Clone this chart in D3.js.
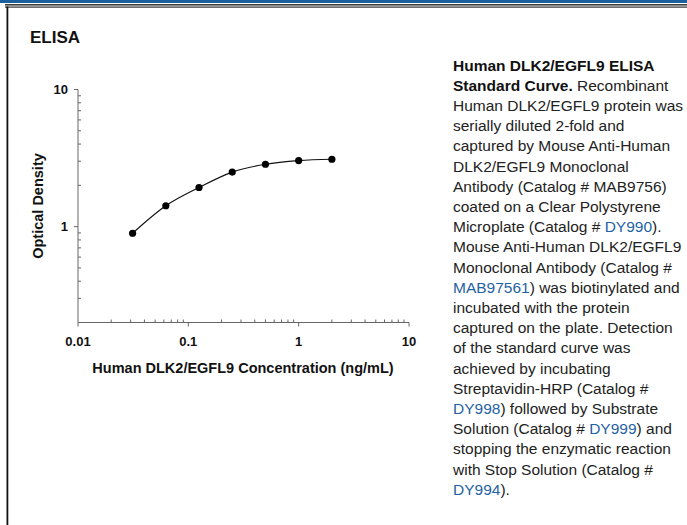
<!DOCTYPE html>
<html>
<head>
<meta charset="utf-8">
<script src="https://cdn.jsdelivr.net/npm/d3@7"></script>
<style>
  html, body { margin: 0; padding: 0; background: #fff; }
  svg { display: block; }
</style>
</head>
<body>
<script>
// data
const concentrations = [0.03125, 0.0625, 0.125, 0.25, 0.5, 1, 2];
const odValues = [0.895, 1.42, 1.93, 2.5, 2.85, 3.03, 3.1];
const xTicks = [0.01, 0.1, 1, 10];
const xTickLabels = ['0.01', '0.1', '1', '10'];
const yTicks = [1, 10];
const yTickLabels = ['1', '10'];

// caption lines, each an array of [text, isLink, isBold]
const captionLines = [
  [['Human DLK2/EGFL9 ELISA', 0, 1]],
  [['Standard Curve.', 0, 1], [' Recombinant', 0, 0]],
  [['Human DLK2/EGFL9 protein was', 0, 0]],
  [['serially diluted 2-fold and', 0, 0]],
  [['captured by Mouse Anti-Human', 0, 0]],
  [['DLK2/EGFL9 Monoclonal', 0, 0]],
  [['Antibody (Catalog # MAB9756)', 0, 0]],
  [['coated on a Clear Polystyrene', 0, 0]],
  [['Microplate (Catalog # ', 0, 0], ['DY990', 1, 0], [').', 0, 0]],
  [['Mouse Anti-Human DLK2/EGFL9', 0, 0]],
  [['Monoclonal Antibody (Catalog #', 0, 0]],
  [['MAB97561', 1, 0], [') was biotinylated and', 0, 0]],
  [['incubated with the protein', 0, 0]],
  [['captured on the plate. Detection', 0, 0]],
  [['of the standard curve was', 0, 0]],
  [['achieved by incubating', 0, 0]],
  [['Streptavidin-HRP (Catalog #', 0, 0]],
  [['DY998', 1, 0], [') followed by Substrate', 0, 0]],
  [['Solution (Catalog # ', 0, 0], ['DY999', 1, 0], [') and', 0, 0]],
  [['stopping the enzymatic reaction', 0, 0]],
  [['with Stop Solution (Catalog #', 0, 0]],
  [['DY994', 1, 0], [').', 0, 0]]
];

(function() {
  const W = 687, H = 525;
  const font = '"Liberation Sans", Arial, sans-serif';
  const axisColor = '#666';

  const svg = d3.select('body').append('svg')
    .attr('width', W)
    .attr('height', H)
    .style('font-family', font);

  // page frame
  svg.append('rect').attr('x', 0).attr('y', 0).attr('width', W).attr('height', 3).attr('fill', '#1a5fa0');
  svg.append('rect').attr('x', 5).attr('y', 4.2).attr('width', W - 5).attr('height', 1.3).attr('fill', '#111');
  svg.append('rect').attr('x', 5).attr('y', 6.5).attr('width', W - 5).attr('height', 1.2).attr('fill', '#333');
  svg.append('rect').attr('x', 6.5).attr('y', 6.5).attr('width', 1.8).attr('height', H).attr('fill', '#111');

  svg.append('text')
    .attr('x', 30).attr('y', 43)
    .attr('font-size', 17).attr('font-weight', 'bold').attr('fill', '#111')
    .text('ELISA');

  // scales
  const x = d3.scaleLog().domain([0.01, 10]).range([78, 409]);
  const y = d3.scaleLog().domain([0.2, 10]).range([322.5, 89.5]);

  const g = svg.append('g');

  // axis lines
  g.append('line').attr('x1', 78).attr('x2', 78).attr('y1', y(10)).attr('y2', y(0.2))
    .attr('stroke', axisColor).attr('stroke-width', 1);
  g.append('line').attr('x1', x(0.01)).attr('x2', x(10)).attr('y1', 322.5).attr('y2', 322.5)
    .attr('stroke', axisColor).attr('stroke-width', 1);

  // minor ticks (inside)
  const xMinor = [];
  [0.01, 0.1, 1].forEach(d => { for (let k = 2; k <= 9; k++) xMinor.push(d * k); });
  g.selectAll('.xminor').data(xMinor).enter().append('line')
    .attr('x1', d => x(d)).attr('x2', d => x(d))
    .attr('y1', 322.5).attr('y2', 319.5)
    .attr('stroke', axisColor);

  const yMinor = [];
  [0.1, 1].forEach(d => { for (let k = 2; k <= 9; k++) if (d * k >= 0.2) yMinor.push(d * k); });
  g.selectAll('.yminor').data(yMinor).enter().append('line')
    .attr('x1', 78).attr('x2', 81)
    .attr('y1', d => y(d)).attr('y2', d => y(d))
    .attr('stroke', axisColor);

  // major ticks (outside)
  g.selectAll('.xmajor').data(xTicks).enter().append('line')
    .attr('x1', d => x(d)).attr('x2', d => x(d))
    .attr('y1', 322.5).attr('y2', 326.5)
    .attr('stroke', axisColor);
  g.selectAll('.ymajor').data(yTicks).enter().append('line')
    .attr('x1', 74).attr('x2', 78)
    .attr('y1', d => y(d)).attr('y2', d => y(d))
    .attr('stroke', axisColor);

  // tick labels
  g.selectAll('.xlab').data(xTicks).enter().append('text')
    .attr('x', d => x(d)).attr('y', 345.5)
    .attr('text-anchor', 'middle')
    .attr('font-size', 13).attr('font-weight', 'bold').attr('fill', '#111')
    .text((d, i) => xTickLabels[i]);
  g.selectAll('.ylab').data(yTicks).enter().append('text')
    .attr('x', 68).attr('y', d => y(d) + 4.5)
    .attr('text-anchor', 'end')
    .attr('font-size', 13).attr('font-weight', 'bold').attr('fill', '#111')
    .text((d, i) => yTickLabels[i]);

  // axis titles
  g.append('text')
    .attr('x', 243).attr('y', 373)
    .attr('text-anchor', 'middle')
    .attr('font-size', 14.5).attr('font-weight', 'bold').attr('fill', '#111')
    .text('Human DLK2/EGFL9 Concentration (ng/mL)');
  g.append('text')
    .attr('transform', 'translate(43,206) rotate(-90)')
    .attr('text-anchor', 'middle')
    .attr('font-size', 14.5).attr('font-weight', 'bold').attr('fill', '#111')
    .text('Optical Density');

  // fitted curve + points
  const pts = concentrations.map((c, i) => [c, odValues[i]]);
  const line = d3.line()
    .x(d => x(d[0]))
    .y(d => y(d[1]))
    .curve(d3.curveMonotoneX);
  g.append('path').datum(pts)
    .attr('d', line)
    .attr('fill', 'none').attr('stroke', '#111').attr('stroke-width', 1.2);
  g.selectAll('circle').data(pts).enter().append('circle')
    .attr('cx', d => x(d[0])).attr('cy', d => y(d[1]))
    .attr('r', 3.6).attr('fill', '#000');

  // caption
  const cap = svg.append('text')
    .attr('font-size', 15.5).attr('fill', '#222');
  captionLines.forEach((parts, i) => {
    const t = cap.append('tspan').attr('x', 453).attr('y', 70.5 + i * 20.2);
    parts.forEach(p => {
      t.append('tspan')
        .attr('fill', p[1] ? '#1f62a5' : (p[2] ? '#111' : '#222'))
        .attr('font-weight', p[2] ? 'bold' : 'normal')
        .text(p[0]);
    });
  });
})();
</script>
</body>
</html>
